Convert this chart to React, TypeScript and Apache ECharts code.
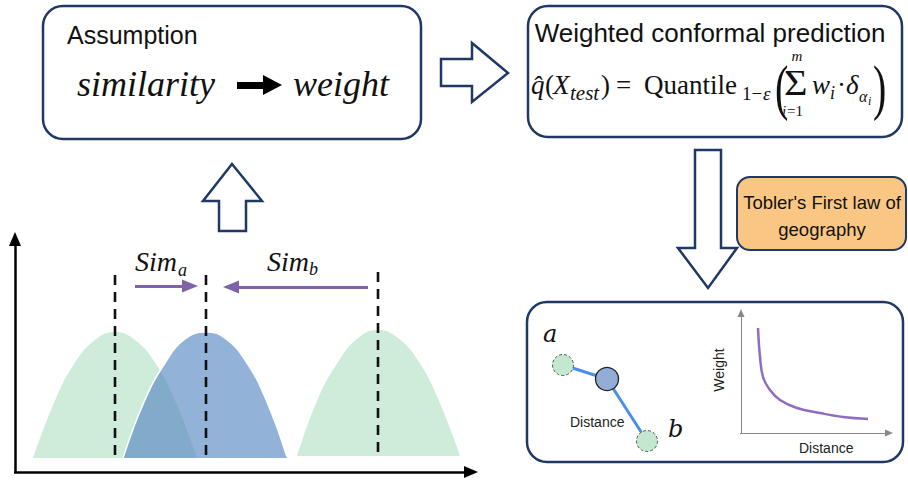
import React, { useEffect, useRef } from "react";
import * as echarts from "echarts";

const W = 908;
const H = 484;

// Bell-shaped distributions (pixel-space values on a hidden value grid)
const bellTrainA = [[33, 458], [54, 403], [74, 364], [95, 340], [115, 332], [135, 340], [156, 364], [176, 403], [197, 458]];
const bellQuery = [[123, 458], [144, 402], [165, 363], [185, 339], [206, 332], [226, 339], [247, 363], [267, 402], [287, 457]];
const bellTrainB = [[297, 456], [317, 401], [338, 362], [358, 338], [378, 330], [398, 338], [419, 362], [439, 401], [460, 456]];
const bellBases = [458, 458, 456];
const peakX = [115, 206, 378];
const peakTop = [275, 275, 272];
const peakBottom = [455, 455, 452];
// Weight vs distance decay curve
const decayCurve = [[758, 328], [760, 357], [763, 377], [770, 390], [780, 400], [797, 408], [820, 413], [843, 417], [868, 419]];
// Graph nodes: a, test point, b
const nodeA = [563, 365];
const nodeQ = [607, 379];
const nodeB = [647, 441];

const NAVY = "#1f3864";
const SANS = '"Liberation Sans", Arial, sans-serif';
const SERIF = '"Liberation Serif", "Times New Roman", serif';
const MSERIF = '"DejaVu Serif", serif';

function txt(text: string, x: number, y: number, size: number, opt: any = {}) {
  return {
    type: "text",
    x,
    y,
    rotation: opt.rotation || 0,
    scaleY: opt.scaleY || 1,
    scaleX: opt.scaleX || 1,
    z: 10,
    style: {
      text,
      fontSize: size,
      fontFamily: opt.family || SERIF,
      fontStyle: opt.italic ? "italic" : "normal",
      fontWeight: opt.bold ? "bold" : "normal",
      fill: opt.color || "#111",
      align: opt.align || "left",
      verticalAlign: "middle",
    },
  };
}

function arrowLine(from: number[], to: number[], color: string, width: number, size: number[]) {
  return {
    type: "line",
    data: [],
    markLine: {
      silent: true,
      symbol: ["none", "triangle"],
      symbolSize: size,
      label: { show: false },
      emphasis: { disabled: true },
      lineStyle: { color, width, type: "solid", opacity: 1 },
      data: [[{ coord: from }, { coord: to }]],
    },
  };
}

export default function App() {
  const ref = useRef<HTMLDivElement>(null);
  useEffect(() => {
    if (!ref.current) return;
    const chart = echarts.init(ref.current, undefined, { renderer: "svg" });
    const bells = [bellTrainA, bellQuery, bellTrainB];
    const bellColors = ["#cfecdb", "rgba(86,134,193,0.64)", "#cfecdb"];
    const series: any[] = [];
    bells.forEach((b, i) => {
      series.push({
        type: "line",
        data: b,
        smooth: 0.45,
        symbol: "none",
        lineStyle: i === 1 ? { color: "#ffffff", width: 1.5 } : { width: 0, color: bellColors[i] },
        areaStyle: { color: bellColors[i], opacity: 1, origin: bellBases[i] },
        silent: true,
      });
    });
    peakX.forEach((x, i) => {
      series.push({
        type: "line",
        data: [[x, peakTop[i]], [x, peakBottom[i]]],
        symbol: "none",
        silent: true,
        lineStyle: { color: "#111", width: 2.6, type: [10, 7] },
      });
    });
    // similarity arrows
    series.push(arrowLine([135, 286], [190, 286], "#7f63a8", 3, [13, 16]));
    series.push(arrowLine([368, 287], [231, 287], "#7f63a8", 3, [13, 16]));
    // left axes
    series.push(arrowLine([14, 472], [471, 472], "#000", 2.5, [12, 14]));
    series.push(arrowLine([15, 473], [15, 239], "#000", 2.5, [12, 14]));
    // similarity -> weight arrow
    series.push(arrowLine([237, 85], [272.5, 85], "#000", 7, [20, 19]));
    // small weight/distance axes
    series.push(arrowLine([741, 434], [741, 313], "#888", 1, [7, 8]));
    series.push(arrowLine([740, 433], [889, 433], "#888", 1, [7, 8]));
    // decay curve
    series.push({
      type: "line",
      data: decayCurve,
      smooth: 0.4,
      symbol: "none",
      silent: true,
      lineStyle: { color: "#8e6cc0", width: 2.5 },
    });
    // node links
    series.push({
      type: "line",
      data: [nodeA, nodeQ, nodeB],
      symbol: "none",
      silent: true,
      z: 3,
      lineStyle: { color: "#4a8fe8", width: 3 },
    });
    series.push({
      type: "scatter",
      data: [nodeA, nodeB],
      symbolSize: 21,
      silent: true,
      z: 6,
      itemStyle: { color: "#c4e8cf", borderColor: "#555", borderWidth: 1, borderType: [3, 2], opacity: 1 },
    });
    series.push({
      type: "scatter",
      data: [nodeQ],
      symbolSize: 23,
      silent: true,
      z: 6,
      itemStyle: { color: "#93add6", borderColor: "#222", borderWidth: 1.3, opacity: 1 },
    });

    const boxStyle = { fill: "#fff", stroke: NAVY, lineWidth: 2.5 };
    const hollow = { fill: "#fff", stroke: NAVY, lineWidth: 2.5, lineJoin: "miter" };
    const graphic: any[] = [
      { type: "rect", z: 1, shape: { x: 43, y: 6, width: 378, height: 133, r: 20 }, style: boxStyle },
      { type: "rect", z: 1, shape: { x: 528, y: 6, width: 374, height: 131, r: 20 }, style: boxStyle },
      { type: "rect", z: 1, shape: { x: 527, y: 302, width: 376, height: 160, r: 20 }, style: { ...boxStyle, fill: "none" } },
      { type: "rect", z: 1, shape: { x: 737, y: 177, width: 169, height: 73, r: 13 }, style: { fill: "#f9c783", stroke: NAVY, lineWidth: 2 } },
      { type: "polygon", z: 1, shape: { points: [[441, 59], [472, 59], [472, 43], [508, 73], [472, 102], [472, 86], [441, 86]] }, style: hollow },
      { type: "polygon", z: 1, shape: { points: [[695, 150], [721, 150], [721, 248], [737, 248], [708, 288], [678, 248], [695, 248]] }, style: hollow },
      { type: "polygon", z: 1, shape: { points: [[232, 164], [262, 201], [246, 201], [246, 231], [219, 231], [219, 201], [203, 201]] }, style: hollow },

      txt("Assumption", 67, 35, 25, { family: SANS }),
      txt("similarity", 77, 84, 36, { italic: true }),
      txt("weight", 293, 84, 36, { italic: true }),

      txt("Weighted conformal prediction", 710, 33, 26, { family: SANS, align: "center" }),
      txt("q\u0302", 531, 85, 27, { italic: true }),
      txt("(", 545, 85, 27),
      txt("X", 553, 85, 27, { italic: true }),
      txt("test", 570, 93, 21, { italic: true }),
      txt(")", 601, 85, 27),
      txt("=", 616, 85, 27),
      txt("Quantile", 644, 85, 27),
      txt("1\u2212", 742, 93, 19),
      txt("\u03b5", 763, 93, 19, { italic: true }),
      txt("(", 775, 87, 40, { scaleY: 1.55 }),
      txt("\u03a3", 784, 83, 36, { scaleX: 1.12 }),
      txt("m", 797, 56, 15, { italic: true, align: "center" }),
      txt("i", 782, 111, 15, { italic: true }),
      txt("=1", 787, 111, 15),
      txt("w", 812, 85, 27, { italic: true }),
      txt("i", 830, 93, 18, { italic: true }),
      txt("\u00b7", 837, 85, 27),
      txt("\u03b4", 846, 85, 27, { italic: true }),
      txt("\u03b1", 859, 96, 16, { italic: true }),
      txt("i", 868, 101, 12, { italic: true }),
      txt(")", 873, 87, 40, { scaleY: 1.55 }),

      txt("Tobler's First law of", 822, 202, 18.5, { family: SANS, align: "center" }),
      txt("geography", 822, 229, 18.5, { family: SANS, align: "center" }),

      txt("Sim", 135, 261, 28, { italic: true }),
      txt("a", 178, 270, 18, { italic: true }),
      txt("Sim", 267, 261, 28, { italic: true }),
      txt("b", 309, 269, 18, { italic: true }),

      txt("a", 543, 334, 24, { italic: true, family: MSERIF }),
      txt("b", 668, 429, 24, { italic: true, family: MSERIF }),
      txt("Distance", 570, 422, 14, { family: SANS, color: "#222" }),
      txt("Distance", 799, 448, 14, { family: SANS, color: "#222" }),
      txt("Weight", 719, 370, 14, { family: SANS, color: "#222", align: "center", rotation: Math.PI / 2 }),
    ];

    chart.setOption({
      animation: false,
      backgroundColor: "#ffffff",
      grid: { left: 0, right: 0, top: 0, bottom: 0 },
      xAxis: { type: "value", min: 0, max: W, show: false },
      yAxis: { type: "value", min: 0, max: H, inverse: true, show: false },
      series,
      graphic: { elements: graphic },
    });
    return () => chart.dispose();
  }, []);
  return (
    <div
      ref={ref}
      style={{ position: "fixed", left: 0, top: 0, width: W, height: H, background: "#fff" }}
    />
  );
}
